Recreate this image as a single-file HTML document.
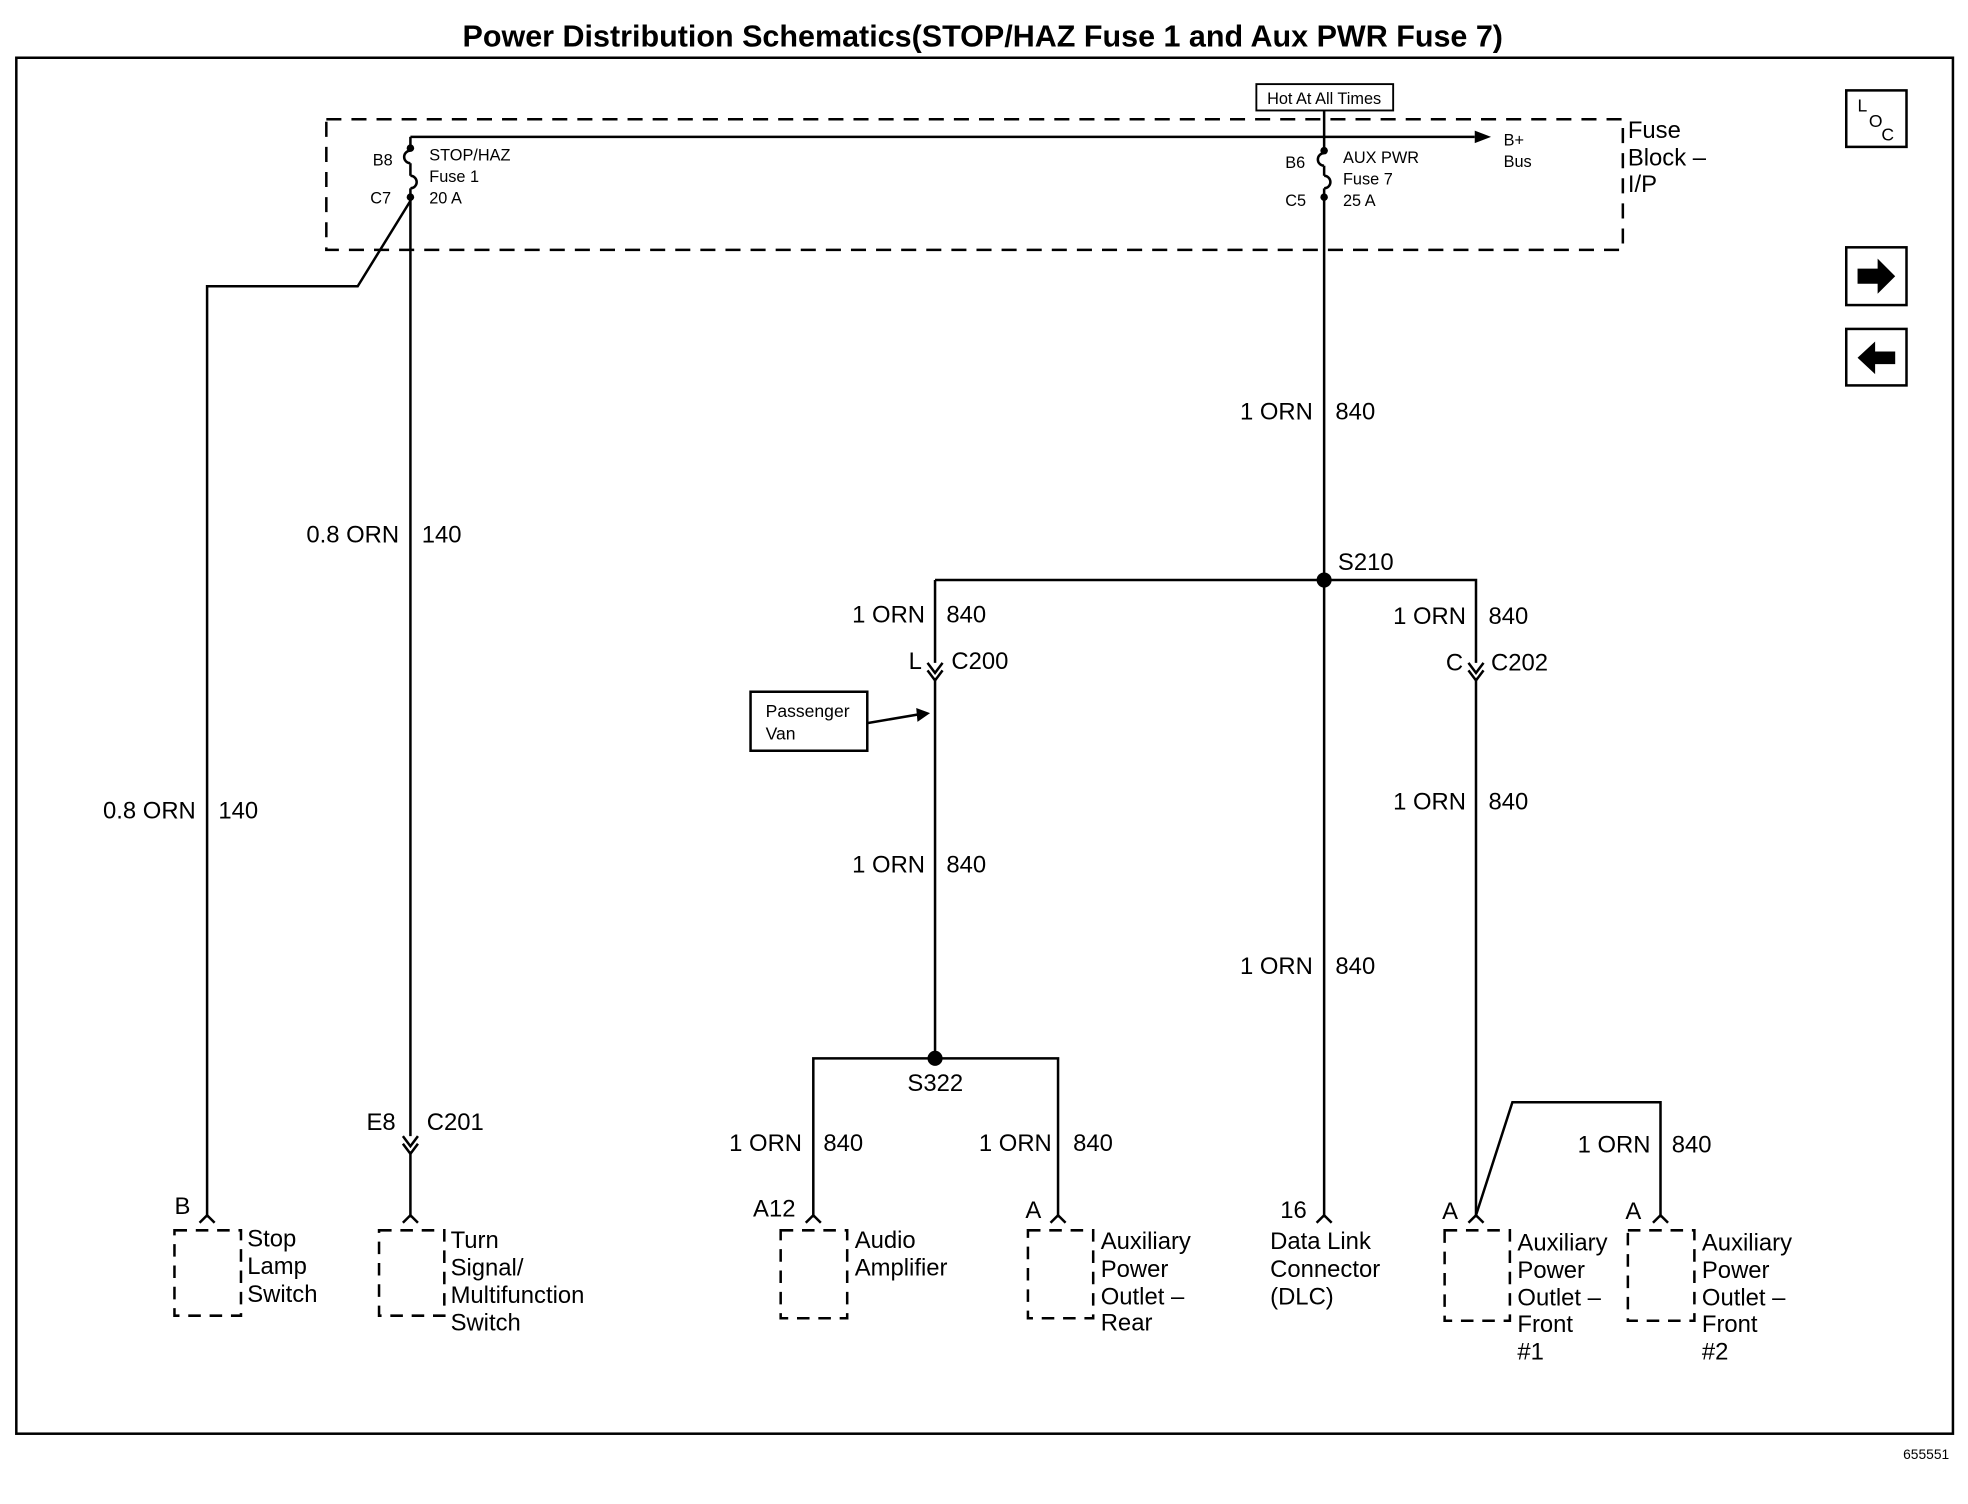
<!DOCTYPE html>
<html><head><meta charset="utf-8"><style>
html,body{margin:0;padding:0;background:#fff}
svg{display:block}
text{font-family:"Liberation Sans",Arial,sans-serif;fill:#000}
.l{font-size:19px}
.s{font-size:13px}
</style></head><body>
<svg width="1968" height="1504" viewBox="0 0 1568 1198" preserveAspectRatio="none" xmlns="http://www.w3.org/2000/svg">
<rect width="1568" height="1198" fill="#fff"/>
<text x="783" y="37" text-anchor="middle" font-size="24.3" font-weight="bold">Power Distribution Schematics(STOP/HAZ Fuse 1 and Aux PWR Fuse 7)</text>
<rect x="13" y="46" width="1543" height="1096" fill="none" stroke="#000" stroke-width="2"/>
<text x="1553" y="1162" text-anchor="end" font-size="11">655551</text>

<g fill="none" stroke="#000" stroke-width="2">
<rect x="260" y="95" width="1033" height="104" stroke-dasharray="12,8"/>
<rect x="1001" y="67" width="109" height="21" stroke-width="1.5"/>
<line x1="1055" y1="88" x2="1055" y2="122"/>
<line x1="327" y1="109" x2="1175" y2="109"/>
<line x1="327" y1="109" x2="327" y2="120"/>
<path d="M327 120 a5 5 0 0 0 0 10 M327 130 v10 M327 140 a5 5 0 0 1 0 10 M327 150 v10"/>
<path d="M1055 122 a5 5 0 0 0 0 10 M1055 132 v8 M1055 140 a5 5 0 0 1 0 10 M1055 150 v10"/>
<line x1="327" y1="157" x2="327" y2="905"/>
<path d="M327 160 L285 228 L165 228 L165 968"/>
<path d="M321 905 l6 8 l6 -8 M321 911 l6 8 l6 -8"/>
<line x1="327" y1="917" x2="327" y2="968"/>
<line x1="1055" y1="157" x2="1055" y2="968"/>
<path d="M745 462 H1176 V528"/>
<path d="M745 462 V528"/>
<path d="M739 528 l6 8 l6 -8 M739 534 l6 8 l6 -8"/>
<path d="M1170 528 l6 8 l6 -8 M1170 534 l6 8 l6 -8"/>
<line x1="745" y1="540" x2="745" y2="843"/>
<line x1="1176" y1="540" x2="1176" y2="968"/>
<path d="M648 968 V843 H843 V968"/>
<path d="M1176 968 L1205 878 H1323 V968"/>
<path d="M159 974 l6 -6 l6 6 M321 974 l6 -6 l6 6 M642 974 l6 -6 l6 6 M837 974 l6 -6 l6 6 M1049 974 l6 -6 l6 6 M1170 974 l6 -6 l6 6 M1317 974 l6 -6 l6 6"/>
<g stroke-dasharray="10,7">
<rect x="139" y="980" width="53" height="68"/>
<rect x="302" y="980" width="52" height="68"/>
<rect x="622" y="980" width="53" height="70"/>
<rect x="819" y="980" width="52" height="70"/>
<rect x="1151" y="980" width="52" height="72"/>
<rect x="1297" y="980" width="53" height="72"/>
</g>
<rect x="598" y="551" width="93" height="47" stroke-width="2"/>
<line x1="691" y1="576" x2="732" y2="569"/>
<rect x="1471" y="72" width="48" height="45"/>
<rect x="1471" y="197" width="48" height="46"/>
<rect x="1471" y="262" width="48" height="45"/>
</g>
<path d="M1175 104 L1188 109 L1175 114 Z"/>
<path d="M730 564 L741 568 L731 575 Z"/>
<circle cx="327" cy="157" r="3"/><circle cx="1055" cy="157" r="3"/>
<circle cx="327" cy="118" r="3"/><circle cx="1055" cy="120" r="3"/>
<circle cx="1055" cy="462" r="6"/><circle cx="745" cy="843" r="6"/>
<path d="M1480 214 h16 v-8 l14 14 l-14 14 v-8 h-16 z"/>
<path d="M1510 280 h-16 v-8 l-14 13 l14 13 v-8 h16 z"/>
<text x="1480" y="89" font-size="14">L</text><text x="1489" y="101" font-size="14">O</text><text x="1499" y="112" font-size="14">C</text>

<text x="1055" y="83" text-anchor="middle" font-size="13">Hot At All Times</text>
<text class="s" x="297" y="132">B8</text><text class="s" x="295" y="162">C7</text>
<text class="s" x="342" y="128">STOP/HAZ</text><text class="s" x="342" y="145">Fuse 1</text><text class="s" x="342" y="162">20 A</text>
<text class="s" x="1024" y="134">B6</text><text class="s" x="1024" y="164">C5</text>
<text class="s" x="1070" y="130">AUX PWR</text><text class="s" x="1070" y="147">Fuse 7</text><text class="s" x="1070" y="164">25 A</text>
<text class="s" x="1198" y="116">B+</text><text class="s" x="1198" y="133">Bus</text>
<text class="l" x="1297" y="110">Fuse</text><text class="l" x="1297" y="132">Block –</text><text class="l" x="1297" y="153">I/P</text>

<text class="l" x="1046" y="334" text-anchor="end">1 ORN</text><text class="l" x="1064" y="334">840</text>
<text class="l" x="318" y="432" text-anchor="end">0.8 ORN</text><text class="l" x="336" y="432">140</text>
<text class="l" x="156" y="652" text-anchor="end">0.8 ORN</text><text class="l" x="174" y="652">140</text>
<text class="l" x="1066" y="454">S210</text>
<text class="l" x="737" y="496" text-anchor="end">1 ORN</text><text class="l" x="754" y="496">840</text>
<text class="l" x="1168" y="497" text-anchor="end">1 ORN</text><text class="l" x="1186" y="497">840</text>
<text class="l" x="724" y="533">L</text><text class="l" x="758" y="533">C200</text>
<text class="l" x="1152" y="534">C</text><text class="l" x="1188" y="534">C202</text>
<text font-size="14" x="610" y="571">Passenger</text><text font-size="14" x="610" y="589">Van</text>
<text class="l" x="1168" y="645" text-anchor="end">1 ORN</text><text class="l" x="1186" y="645">840</text>
<text class="l" x="737" y="695" text-anchor="end">1 ORN</text><text class="l" x="754" y="695">840</text>
<text class="l" x="1046" y="776" text-anchor="end">1 ORN</text><text class="l" x="1064" y="776">840</text>
<text class="l" x="723" y="869">S322</text>
<text class="l" x="292" y="900">E8</text><text class="l" x="340" y="900">C201</text>
<text class="l" x="639" y="917" text-anchor="end">1 ORN</text><text class="l" x="656" y="917">840</text>
<text class="l" x="838" y="917" text-anchor="end">1 ORN</text><text class="l" x="855" y="917">840</text>
<text class="l" x="1315" y="918" text-anchor="end">1 ORN</text><text class="l" x="1332" y="918">840</text>
<text class="l" x="139" y="967">B</text>
<text class="l" x="600" y="969">A12</text>
<text class="l" x="817" y="970">A</text>
<text class="l" x="1020" y="970">16</text>
<text class="l" x="1149" y="971">A</text>
<text class="l" x="1295" y="971">A</text>
<text class="l" x="197" y="993">Stop</text><text class="l" x="197" y="1015">Lamp</text><text class="l" x="197" y="1037">Switch</text>
<text class="l" x="359" y="994">Turn</text><text class="l" x="359" y="1016">Signal/</text><text class="l" x="359" y="1038">Multifunction</text><text class="l" x="359" y="1060">Switch</text>
<text class="l" x="681" y="994">Audio</text><text class="l" x="681" y="1016">Amplifier</text>
<text class="l" x="877" y="995">Auxiliary</text><text class="l" x="877" y="1017">Power</text><text class="l" x="877" y="1039">Outlet –</text><text class="l" x="877" y="1060">Rear</text>
<text class="l" x="1012" y="995">Data Link</text><text class="l" x="1012" y="1017">Connector</text><text class="l" x="1012" y="1039">(DLC)</text>
<text class="l" x="1209" y="996">Auxiliary</text><text class="l" x="1209" y="1018">Power</text><text class="l" x="1209" y="1040">Outlet –</text><text class="l" x="1209" y="1061">Front</text><text class="l" x="1209" y="1083">#1</text>
<text class="l" x="1356" y="996">Auxiliary</text><text class="l" x="1356" y="1018">Power</text><text class="l" x="1356" y="1040">Outlet –</text><text class="l" x="1356" y="1061">Front</text><text class="l" x="1356" y="1083">#2</text>
</svg>
</body></html>
